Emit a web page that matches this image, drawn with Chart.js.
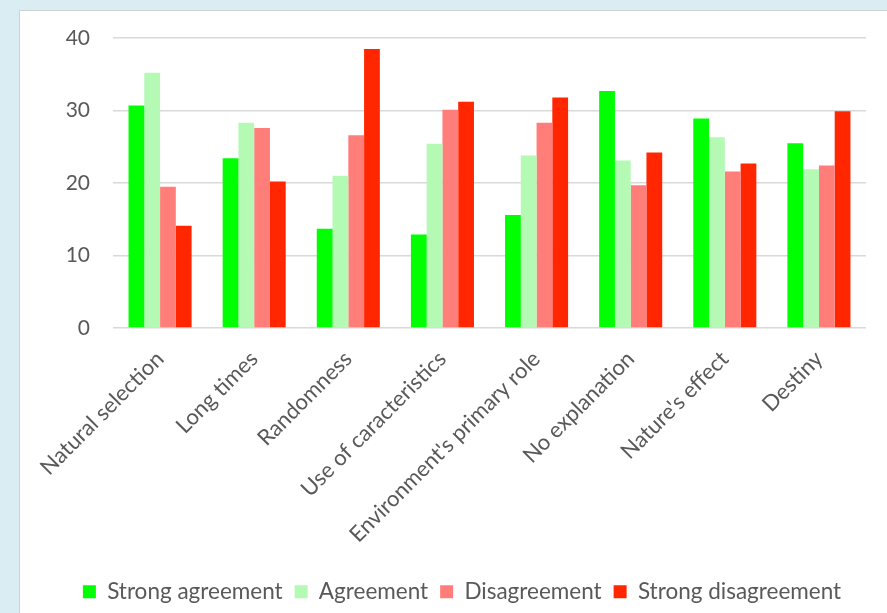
<!DOCTYPE html>
<html>
<head>
<meta charset="utf-8">
<script src="https://cdn.jsdelivr.net/npm/chart.js@4.4.1/dist/chart.umd.min.js"></script>
<style>
  html, body { margin: 0; padding: 0; }
  body { width: 887px; height: 613px; background: #daedf3; position: relative; overflow: hidden; }
  #frame {
    position: absolute; left: 19px; top: 10px; right: 0; bottom: 0;
    background: #fff; border-left: 1px solid #cfd3d4; border-top: 1px solid #cfd3d4;
  }
  #chart-wrap { position: absolute; left: 0; top: 0; width: 867px; height: 602px; }
</style>
</head>
<body>
<div id="frame"><div id="chart-wrap"><canvas id="bar-chart"></canvas></div></div>
<script>
const categories = ['Natural selection', 'Long times', 'Randomness', 'Use of caracteristics',
  "Environment's primary role", 'No explanation', "Nature's effect", 'Destiny'];
const strongAgreement    = [30.7, 23.4, 13.7, 12.9, 15.6, 32.7, 28.9, 25.5];
const agreement          = [35.2, 28.3, 21.0, 25.4, 23.8, 23.1, 26.3, 21.9];
const disagreement       = [19.5, 27.6, 26.6, 30.1, 28.3, 19.7, 21.6, 22.4];
const strongDisagreement = [14.1, 20.2, 38.5, 31.2, 31.8, 24.2, 22.7, 29.9];
const yTicks = [0, 10, 20, 30, 40];

const TEXT = '#595959';
const FONT = 'Lato';

function initChart() {
  const canvas = document.getElementById('bar-chart');
  if (!canvas) return;
  new Chart(canvas, {
    type: 'bar',
    data: {
      labels: categories,
      datasets: [
        { label: 'Strong agreement', data: strongAgreement, backgroundColor: '#00ff00' },
        { label: 'Agreement', data: agreement, backgroundColor: '#b4fab4' },
        { label: 'Disagreement', data: disagreement, backgroundColor: '#ff7e7a' },
        { label: 'Strong disagreement', data: strongDisagreement, backgroundColor: '#ff2600' },
      ],
    },
    options: {
      responsive: true,
      maintainAspectRatio: false,
      animation: false,
      datasets: { bar: { categoryPercentage: 0.67, barPercentage: 1.0 } },
      // left padding + narrower y axis keeps the plot in place but centres the legend further right
      layout: { padding: { top: 27, right: 21, bottom: 0, left: 38 } },
      plugins: {
        tooltip: { enabled: false },
        legend: {
          position: 'bottom',
          labels: {
            color: TEXT,
            font: { family: FONT, size: 22.5 },
            boxWidth: 13,
            boxHeight: 13,
            padding: 12,
          },
        },
      },
      scales: {
        x: {
          grid: { display: false },
          border: { display: false },
          ticks: {
            color: TEXT,
            font: { family: FONT, size: 22 },
            maxRotation: 45,
            minRotation: 45,
            padding: 10,
          },
          afterFit: s => { s.height = 240.5; },
        },
        y: {
          min: 0,
          max: 40,
          afterBuildTicks: s => { s.ticks = yTicks.map(v => ({ value: v })); },
          // invisible tick marks push the labels left without inflating the top padding
          grid: { color: '#d9d9d9', lineWidth: 1.5, tickLength: 15, tickColor: 'rgba(0,0,0,0)' },
          border: { display: false },
          ticks: {
            color: TEXT,
            font: { family: FONT, size: 21 },
            padding: 8,
          },
          afterFit: s => { s.width = 55; },
        },
      },
    },
  });
}

document.addEventListener('DOMContentLoaded', initChart);
</script>
</body>
</html>
